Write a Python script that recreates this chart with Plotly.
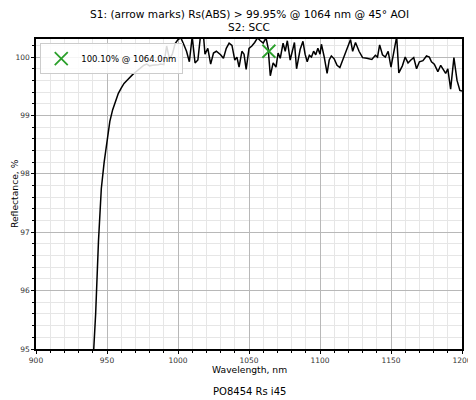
import plotly.graph_objects as go

wavelength = [
    940, 942, 944, 946, 948, 950, 952, 954, 956, 958, 960, 962, 964, 966, 968,
    970, 972, 974, 976, 978, 980, 982, 984, 986, 988, 990, 992, 994, 996, 998,
    1000, 1002, 1004, 1006, 1008, 1010, 1012, 1014, 1016, 1018, 1019, 1021,
    1023, 1025, 1027, 1030, 1032, 1034, 1036, 1038, 1040, 1041.5, 1043, 1045,
    1046.5, 1048, 1050, 1052, 1054, 1056, 1058, 1060, 1062, 1063.5, 1065, 1067,
    1069, 1070.5, 1072, 1074, 1075.5, 1077, 1079, 1080.5, 1082, 1083.5, 1086,
    1088, 1089.5, 1091, 1092.5, 1094, 1095.5, 1097, 1098.5, 1100, 1101, 1103,
    1105, 1106.5, 1108, 1110, 1112, 1114, 1116, 1119, 1121.5, 1123, 1125,
    1127.5, 1130, 1133, 1136.5, 1139, 1140.5, 1142, 1144, 1146, 1148, 1150,
    1152, 1154, 1155.5, 1158, 1160, 1162, 1164, 1166, 1168, 1170, 1172.5, 1175,
    1177, 1178.5, 1180.5, 1183, 1185, 1187, 1188.5, 1190, 1192, 1194.3, 1196.5,
    1198.5, 1200,
]
reflectance = [
    94.7, 95.6, 96.85, 97.75, 98.2, 98.55, 98.9, 99.1, 99.25, 99.38, 99.47,
    99.55, 99.6, 99.66, 99.7, 99.74, 99.78, 99.82, 99.86, 99.88, 99.85, 99.86,
    99.86, 99.87, 99.88, 99.87, 100.19, 99.97, 100.05, 100.23, 100.3, 100.33,
    100.22, 100.1, 99.92, 100.35, 99.9, 99.95, 100.4, 100.35, 100.05, 100.15,
    99.88, 100.07, 100.1, 100.04, 99.98, 100.15, 100.24, 100.2, 99.95, 100.0,
    99.83, 100.1, 100.05, 99.79, 100.15, 100.19, 100.25, 100.33, 100.28,
    100.24, 100.33, 100.15, 99.68, 99.9, 99.83, 100.07, 99.98, 100.24, 100.1,
    100.28, 99.95, 100.1, 100.25, 99.8, 100.13, 100.27, 100.05, 99.92, 100.03,
    100.0, 100.1, 100.04, 100.15, 100.05, 100.22, 100.0, 99.72, 99.95, 100.02,
    99.97, 99.86, 99.82, 99.95, 100.13, 100.3, 100.1, 100.25, 100.1, 99.99,
    99.98, 99.96, 100.03, 100.0, 100.21, 100.04, 100.0, 100.1, 99.83, 100.12,
    100.35, 99.73, 99.85, 100.0, 99.9, 99.95, 99.99, 99.8, 99.92, 99.94,
    100.02, 100.0, 99.92, 99.88, 99.75, 99.86, 99.78, 99.72, 99.8, 99.45,
    99.99, 99.6, 99.43, 99.42,
]

# marked design point
mark_wl = [1064.0]
mark_r = [100.10]
mark_label = "100.10% @ 1064.0nm"

title_lines = ["S1: (arrow marks) Rs(ABS) > 99.95% @ 1064 nm @ 45° AOI", "S2: SCC"]
x_title = "Wavelength, nm"
y_title = "Reflectance, %"
footer = "PO8454 Rs i45"

FONT = "DejaVu Sans"
GRID_MAJOR = "#b8b8b8"
GRID_MINOR = "#e6e6e6"

fig = go.Figure()
fig.add_trace(
    go.Scatter(
        x=wavelength,
        y=reflectance,
        mode="lines",
        line=dict(color="black", width=1.5),
        showlegend=False,
    )
)
fig.add_trace(
    go.Scatter(
        x=mark_wl,
        y=mark_r,
        mode="markers",
        marker=dict(symbol="x-thin", size=13, line=dict(color="#2ca02c", width=1.8)),
        name=mark_label,
    )
)

axis_common = dict(
    showline=True,
    linecolor="black",
    linewidth=1.5,
    mirror=True,
    ticks="outside",
    ticklen=3,
    tickcolor="black",
    showgrid=True,
    gridcolor=GRID_MAJOR,
    gridwidth=1,
    zeroline=False,
    automargin=False,
    tickfont=dict(family=FONT, size=7.5, color="#333333"),
)


def paper_note(text, x, y, size, angle=0):
    return dict(
        text=text, xref="paper", yref="paper", x=x, y=y,
        xanchor="center", yanchor="middle", showarrow=False, textangle=angle,
        font=dict(family=FONT, size=size, color="black"),
    )


# the page body adds an 8 px offset, so the figure is 8 px smaller than the window;
# plot area: 426 x 310 px
fig.update_layout(
    width=468,
    height=392,
    margin=dict(l=28, r=14, t=31, b=51, autoexpand=False),
    plot_bgcolor="white",
    paper_bgcolor="white",
    font=dict(family=FONT, color="black"),
    xaxis=dict(
        axis_common,
        range=[900, 1200],
        dtick=50,
        minor=dict(dtick=10, showgrid=True, gridcolor=GRID_MINOR, ticks="outside",
                   ticklen=2, tickcolor="black"),
    ),
    yaxis=dict(
        axis_common,
        range=[95, 100.31],
        dtick=1,
        minor=dict(dtick=0.2, showgrid=True, gridcolor=GRID_MINOR, ticks="outside",
                   ticklen=2, tickcolor="black"),
    ),
    legend=dict(
        x=0.01,
        y=0.987,
        xanchor="left",
        yanchor="top",
        bgcolor="rgba(255,255,255,0.85)",
        bordercolor="#cccccc",
        borderwidth=1,
        itemwidth=30,
        font=dict(family=FONT, size=8.5),
    ),
    annotations=[
        paper_note(title_lines[0], 0.5, (349 - 14) / 310, 10.6),
        paper_note(title_lines[1], 0.5, (349 - 27) / 310, 10.6),
        paper_note(x_title, 0.5, (349 - 369) / 310, 9.2),
        paper_note(y_title, -22 / 426, 0.5, 9.2, angle=-90),
        paper_note(footer, 0.5, (349 - 391) / 310, 10),
    ],
)

fig.write_html("out.html")
